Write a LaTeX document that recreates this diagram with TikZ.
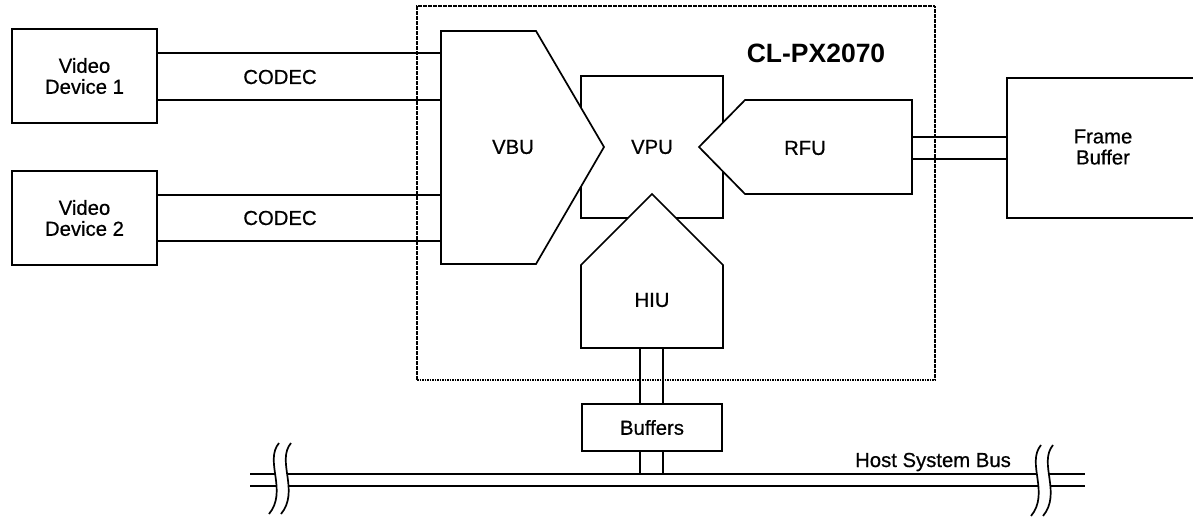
\documentclass[tikz,border=0pt]{standalone}
\usepackage{fontspec}
\setmainfont{Liberation Sans}
\newfontfamily\thickfont{Liberation Sans}[FakeBold=0.6]
\begin{document}
\begin{tikzpicture}[x=1pt,y=-1pt, line width=1.7pt, line join=miter,
  lbl/.style={font=\thickfont\fontsize{20.3}{21}\selectfont, align=center, inner sep=0pt},
  box/.style={draw, fill=white, inner sep=0pt},
  chip/.style={draw, line width=1.4pt, dash pattern=on 1.6pt off 0.9pt, inner sep=0pt},
  unit/.style={draw, fill=white}]
\useasboundingbox (0,0) rectangle (1193,517);
\clip (0,0) rectangle (1193,517);
% chip outline
\node[chip, minimum width=518, minimum height=374] (chip) at (676,193) {};
\node[font=\bfseries\fontsize{26.5}{28}\selectfont, inner sep=0pt] (title) at (816,53) {CL-PX2070};
% video devices
\node[box, lbl, minimum width=145, minimum height=94] (dev1) at (84.5,76) {Video\\Device 1};
\node[box, lbl, minimum width=145, minimum height=94] (dev2) at (84.5,218) {Video\\Device 2};
% VPU
\node[box, minimum width=142, minimum height=142] (vpu) at (652,147) {};
% VBU
\draw[unit] (441,31) coordinate (vbuTL) -- (536,31) -- (604,147) -- (536,264) -- (441,264) coordinate (vbuBL) -- cycle;
\node[lbl] (vbu) at (513,147) {VBU};
% RFU
\draw[unit] (699,147) -- (745,100) -- (912,100) coordinate (rfuTR) -- (912,194) -- (745,194) -- cycle;
\node[lbl] (rfu) at (805,148) {RFU};
% HIU
\draw[unit] (652,194) -- (723,265) -- (723,348) -- (581,348) coordinate (hiuBL) -- (581,265) -- cycle;
\node[lbl] (hiu) at (652,300) {HIU};
\node[lbl] (vpulbl) at (652,147) {VPU};
% CODEC connections
\draw (dev1.east |- 0,53) -- (vbuTL |- 0,53);
\draw (dev1.east |- 0,100) -- (vbuTL |- 0,100);
\draw (dev2.east |- 0,195) -- (vbuTL |- 0,195);
\draw (dev2.east |- 0,241) -- (vbuTL |- 0,241);
\node[lbl] (codec1) at (280,77) {CODEC};
\node[lbl] (codec2) at (280,218) {CODEC};
% Frame buffer
\node[box, minimum width=200, minimum height=140, anchor=north west] (fb) at (1006,77) {};
\node[lbl] (fblbl) at (1103,147) {Frame\\Buffer};
\draw (rfuTR |- 0,137) -- (fb.west |- 0,137);
\draw (rfuTR |- 0,159) -- (fb.west |- 0,159);
% Buffers
\node[box, lbl, minimum width=140, minimum height=47] (buf) at (652,427.5) {Buffers};
\draw (640,348) -- (buf.north -| 640,0);
\draw (663,348) -- (buf.north -| 663,0);
% bus
\coordinate (busL) at (250,474);
\coordinate (busR) at (1085,474);
\draw (busL) -- (busR);
\draw (busL |- 0,486) -- (busR |- 0,486);
\draw (buf.south -| 640,0) -- (640,474);
\draw (buf.south -| 663,0) -- (663,474);
% breaks
\foreach \bx/\by in {279/443, 1041/445} {
  \fill[white] (\bx,\by) .. controls (\bx-15,\by+18) and (\bx+9,\by+48) .. (\bx-10,\by+71)
     -- (\bx+2,\by+71) .. controls (\bx+21,\by+48) and (\bx-3,\by+18) .. (\bx+12,\by) -- cycle;
  \draw (\bx,\by) .. controls (\bx-15,\by+18) and (\bx+9,\by+48) .. (\bx-10,\by+71);
  \draw (\bx+12,\by) .. controls (\bx-3,\by+18) and (\bx+21,\by+48) .. (\bx+2,\by+71);
}
\node[lbl, anchor=base] (buslbl) at (933,467) {Host System Bus};
\end{tikzpicture}
\end{document}
